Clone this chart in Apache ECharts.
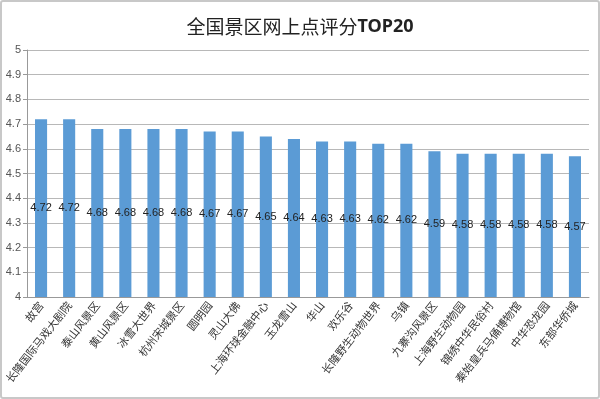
<!DOCTYPE html>
<html>
<head>
<meta charset="utf-8">
<script src="https://cdn.jsdelivr.net/npm/echarts@6/dist/echarts.min.js"></script>
<style>
html, body { margin: 0; padding: 0; background: #fff; }
#frame {
  width: 600px; height: 399px; box-sizing: border-box;
  border: 2px solid #c8c8c8; border-radius: 3px; position: relative;
}
#chart { position: absolute; left: -2px; top: -2px; width: 600px; height: 399px; }
</style>
</head>
<body>
<div id="frame"><div id="chart"></div></div>
<script>
// 景区名称
var spots = [
  "故宫", "长隆国际马戏大剧院", "泰山风景区", "黄山风景区", "冰雪大世界",
  "杭州宋城景区", "圆明园", "灵山大佛", "上海环球金融中心", "玉龙雪山",
  "华山", "欢乐谷", "长隆野生动物世界", "乌镇", "九寨沟风景区",
  "上海野生动物园", "锦绣中华民俗村", "秦始皇兵马俑博物馆", "中华恐龙园", "东部华侨城"
];
// 网上点评评分
var scores = [
  4.72, 4.72, 4.68, 4.68, 4.68,
  4.68, 4.67, 4.67, 4.65, 4.64,
  4.63, 4.63, 4.62, 4.62, 4.59,
  4.58, 4.58, 4.58, 4.58, 4.57
];

var myChart = echarts.init(document.getElementById("chart"));
myChart.setOption({
  animation: false,
  title: {
    text: "全国景区网上点评分{b|TOP20}",
    left: "center",
    top: 12,
    textStyle: {
      fontSize: 19, fontWeight: "normal", color: "#222", fontFamily: "Noto Sans CJK SC",
      rich: { b: { fontSize: 18, fontWeight: "bold", color: "#222", fontFamily: "Liberation Sans Narrow, Noto Sans" } }
    }
  },
  grid: { left: 27, right: 11, top: 50, bottom: 102, outerBoundsMode: "none", containLabel: false },
  xAxis: {
    type: "category",
    data: spots,
    axisLine: { lineStyle: { color: "#999" } },
    axisTick: { lineStyle: { color: "#999" }, length: 4 },
    axisLabel: {
      rotate: 52, interval: 0, fontSize: 11, color: "#333", margin: 6,
      fontFamily: "Noto Sans CJK SC"
    }
  },
  yAxis: {
    type: "value",
    min: 4,
    max: 5,
    interval: 0.1,
    axisLine: { show: true, lineStyle: { color: "#999" } },
    axisTick: { show: true, length: 4, lineStyle: { color: "#999" } },
    splitLine: { lineStyle: { color: "#b8b8b8" } },
    axisLabel: { fontSize: 11, color: "#555", margin: 6, formatter: function (v) { return +v.toFixed(1); } }
  },
  series: [{
    type: "bar",
    data: scores,
    barWidth: "43%",
    itemStyle: { color: "#5b9bd5" },
    label: {
      show: true, position: "inside", color: "#222", fontSize: 11
    }
  }]
});
</script>
</body>
</html>
